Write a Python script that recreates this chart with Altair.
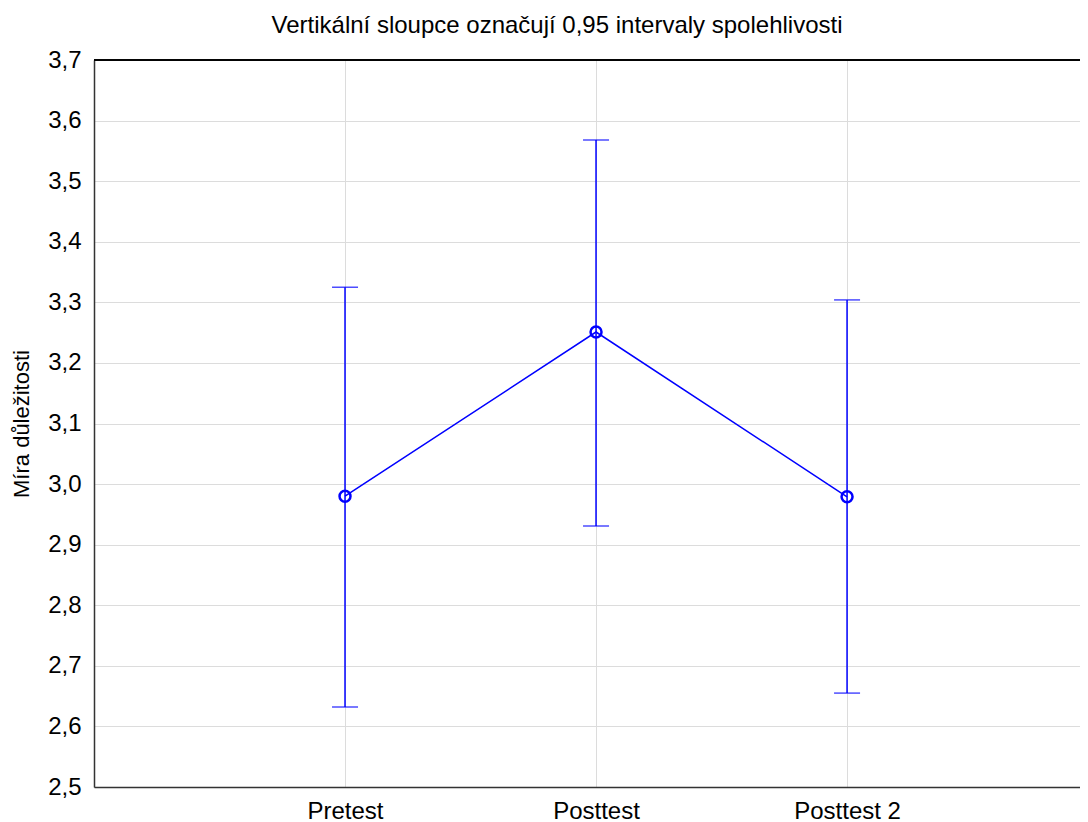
import json
import altair as alt
import pandas as pd

categories = ["Pretest", "Posttest", "Posttest 2"]
positions = [1, 2, 3]
means = [2.980, 3.251, 2.979]
lower = [2.632, 2.931, 2.655]
upper = [3.325, 3.568, 3.304]

df = pd.DataFrame({"pos": positions, "cat": categories, "mean": means,
                   "lo": lower, "hi": upper})

FONT = "Liberation Sans"
BLUE = "#0000ff"

x_scale = alt.Scale(domain=[0, 3.928], nice=False, zero=False)
y_scale = alt.Scale(domain=[2.5, 3.7], nice=False, zero=False)

label_js = json.dumps(categories)

x_axis = alt.Axis(values=positions, labelExpr=f"{label_js}[datum.value-1]",
                  title=None, grid=True, gridColor="#dcdcdc", gridWidth=1,
                  ticks=False, labelPadding=12, labelFontSize=24,
                  labelFont=FONT, labelColor="#000", domainColor="#333",
                  domainWidth=1.5)
y_axis = alt.Axis(values=[round(2.5 + 0.1 * i, 1) for i in range(13)],
                  labelExpr="replace(format(datum.value, '.1f'), '.', ',')",
                  title="Míra důležitosti", titleFont=FONT, titleFontSize=22,
                  titleFontWeight="normal", titleColor="#000", titlePadding=14,
                  grid=True, gridColor="#dcdcdc", gridWidth=1, ticks=False,
                  labelPadding=13, labelFontSize=24, labelFont=FONT,
                  labelColor="#000", domainColor="#333", domainWidth=1.5)

base = alt.Chart(df)

grid_layer = base.mark_point(opacity=0).encode(
    x=alt.X("pos:Q", scale=x_scale, axis=x_axis),
    y=alt.Y("mean:Q", scale=y_scale, axis=y_axis),
)

top_border = base.mark_rule(color="black", strokeWidth=1.5).encode(
    y=alt.datum(3.7, scale=y_scale)
)

bars = base.mark_rule(color=BLUE, strokeWidth=1.5).encode(
    x="pos:Q", y="lo:Q", y2="hi:Q"
)
cap_hi = base.mark_tick(color=BLUE, size=26, thickness=1.5,
                        orient="horizontal").encode(x="pos:Q", y="hi:Q")
cap_lo = base.mark_tick(color=BLUE, size=26, thickness=1.5,
                        orient="horizontal").encode(x="pos:Q", y="lo:Q")
line = base.mark_line(color=BLUE, strokeWidth=1.5).encode(x="pos:Q", y="mean:Q")
points = base.mark_point(shape="circle", filled=False, color=BLUE, size=120,
                         strokeWidth=2.5, opacity=1).encode(x="pos:Q", y="mean:Q")

chart = alt.layer(grid_layer, top_border, bars, cap_hi, cap_lo, line, points).properties(
    width=986,
    height=727,
    title=alt.TitleParams(
        "Vertikální sloupce označují 0,95 intervaly spolehlivosti",
        font=FONT, fontSize=24, fontWeight="normal", color="#000",
        anchor="middle", offset=10, dx=-30,
    ),
    autosize=alt.AutoSizeParams(type="none"),
    padding={"left": 86, "top": 52, "right": 0, "bottom": 34},
).configure_view(stroke=None).configure(background="white")

chart.save("out.html", embed_options={"renderer": "svg", "actions": False})
